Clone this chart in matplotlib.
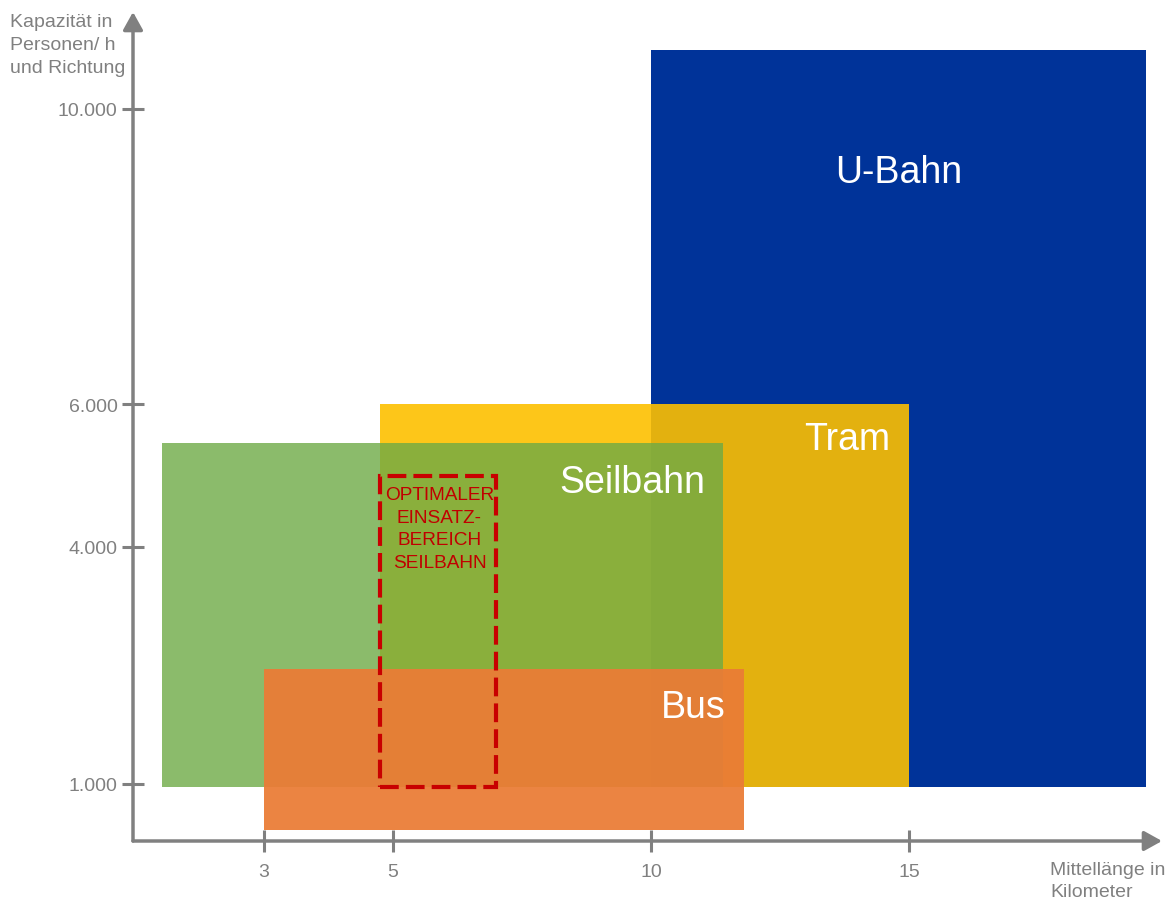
import numpy as np
import matplotlib
matplotlib.use("Agg")
import matplotlib.pyplot as plt
from matplotlib.patches import Rectangle
from matplotlib.scale import FuncScale

plt.rcParams['font.family'] = ['Liberation Sans', 'DejaVu Sans']

# ---------------- data ----------------
modes = ["U-Bahn", "Tram", "Seilbahn", "Bus"]
km_min = [10, 4.8, 1, 3]
km_max = [19.6, 15, 11.4, 11.8]
cap_min = [950, 950, 950, 200]
cap_max = [10800, 6000, 5450, 2450]
colors = ["#003399", "#FDC000", "#6EAA46", "#EA7C36"]
alphas = [1.0, 0.9, 0.8, 0.94]

opt_km = [4.8, 7]
opt_cap = [950, 5000]
opt_label = "OPTIMALER\nEINSATZ-\nBEREICH\nSEILBAHN"

x_ticks = [3, 5, 10, 15]
x_ticklabels = ["3", "5", "10", "15"]
y_ticks = [1000, 4000, 6000, 10000]
y_ticklabels = ["1.000", "4.000", "6.000", "10.000"]

y_title = "Kapazität in\nPersonen/ h\nund Richtung"
x_title = "Mittellänge in\nKilometer"

# schematic (non-linear) axis scales: value knots -> relative positions
x_knots = np.array([0, 1, 3, 5, 10, 15, 20], dtype=float)
x_pos = np.array([133, 162, 264, 393, 651, 909, 1167], dtype=float) - 133
y_knots = np.array([0, 1000, 4000, 6000, 10000, 12000], dtype=float)
y_pos = 842 - np.array([842, 785, 548, 405, 110, -37.5])

def fx(v):
    return np.interp(v, x_knots, x_pos)
def ix(p):
    return np.interp(p, x_pos, x_knots)
def fy(v):
    return np.interp(v, y_knots, y_pos)
def iy(p):
    return np.interp(p, y_pos, y_knots)

W, H = 1170, 903
fig = plt.figure(figsize=(W / 100, H / 100), dpi=100)
ax = fig.add_axes([133 / W, (H - 842) / H, (1162 - 133) / W, (842 - 13) / H])
ax.set_xscale(FuncScale(ax, (fx, ix)))
ax.set_yscale(FuncScale(ax, (fy, iy)))
ax.set_xlim(0, float(ix(1162 - 133)))
ax.set_ylim(0, float(iy(842 - 13)))

gray = "#808080"

for i, m in enumerate(modes):
    ax.add_patch(Rectangle((km_min[i], cap_min[i]), km_max[i] - km_min[i],
                           cap_max[i] - cap_min[i], facecolor=colors[i],
                           alpha=alphas[i], linewidth=0, zorder=2 + i))

# labels
label_kw = dict(color="white", fontsize=27, textcoords="offset pixels", zorder=10)
ax.annotate("U-Bahn", xy=((km_min[0] + km_max[0]) / 2, cap_max[0]), xytext=(0, -132),
            ha="center", va="baseline", **label_kw)
ax.annotate("Tram", xy=(km_max[1], cap_max[1]), xytext=(-19, -45),
            ha="right", va="baseline", **label_kw)
ax.annotate("Seilbahn", xy=(km_max[2], cap_max[2]), xytext=(-18, -49),
            ha="right", va="baseline", **label_kw)
ax.annotate("Bus", xy=(km_max[3], cap_max[3]), xytext=(-18, -48),
            ha="right", va="baseline", **label_kw)

# optimal range box
ax.add_patch(Rectangle((opt_km[0], opt_cap[0]), opt_km[1] - opt_km[0],
                       opt_cap[1] - opt_cap[0], fill=False, edgecolor="#C80000",
                       linewidth=3, linestyle=(0, (4.5, 1.7)), zorder=8))
ax.annotate(opt_label, xy=((opt_km[0] + opt_km[1]) / 2, opt_cap[1]), xytext=(0, -11),
            textcoords="offset pixels", ha="center", va="top", color="#C00000",
            fontsize=13.7, linespacing=1.42, zorder=10)

# axes with arrows
for s in ax.spines.values():
    s.set_visible(False)
arrow_kw = dict(arrowstyle="-|>,head_length=1.08,head_width=0.6", color=gray, lw=2.5,
                shrinkA=0, shrinkB=0, mutation_scale=10)
ax.annotate("", xy=(1, 0), xytext=(0, 0), xycoords="axes fraction",
            arrowprops=arrow_kw, annotation_clip=False)
ax.annotate("", xy=(0, 1), xytext=(0, 0), xycoords="axes fraction",
            arrowprops=arrow_kw, annotation_clip=False)

ax.set_xticks(x_ticks)
ax.set_xticklabels(x_ticklabels)
ax.set_yticks(y_ticks)
ax.set_yticklabels(y_ticklabels)
ax.minorticks_off()
ax.tick_params(direction="inout", length=16, width=2.2, color=gray,
               labelcolor=gray, labelsize=14)
ax.tick_params(axis="x", pad=8)
ax.tick_params(axis="y", pad=3)
ax.patch.set_visible(False)

fig.text(10 / W, 1 - 14 / H, y_title, ha="left", va="top", fontsize=14,
         color=gray, linespacing=1.45)
fig.text(1050 / W, 1 - 862 / H, x_title, ha="left", va="top", fontsize=14,
         color=gray, linespacing=1.4)

fig.savefig("out.png", dpi=100)
